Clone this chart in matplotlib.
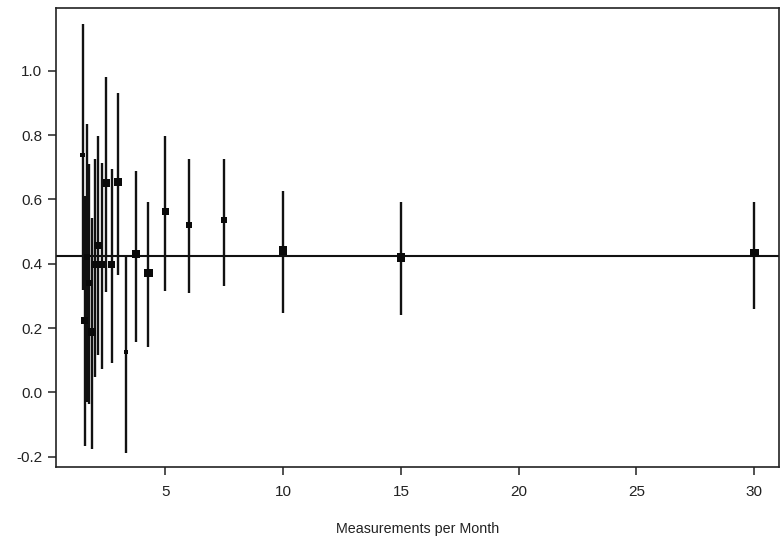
import numpy as np
import matplotlib.pyplot as plt

plt.rcParams['font.family'] = ['Liberation Sans', 'DejaVu Sans']
plt.rcParams['axes.unicode_minus'] = False

# One estimate per sampling interval; measurements per month = 30 / interval.
interval_days = [1, 2, 3, 4, 5, 6, 7, 8, 9, 10,
                 11, 12, 13, 14, 15, 16, 17, 18, 19, 20]
estimate = [0.434, 0.420, 0.441, 0.535, 0.522, 0.563, 0.371, 0.431, 0.126, 0.655,
            0.397, 0.652, 0.397, 0.457, 0.397, 0.187, 0.340, 0.420, 0.225, 0.738]
ci_lower = [0.260, 0.240, 0.246, 0.330, 0.310, 0.316, 0.140, 0.157, -0.187, 0.366,
            0.093, 0.313, 0.072, 0.115, 0.048, -0.176, -0.035, -0.030, -0.166, 0.320]
ci_upper = [0.592, 0.592, 0.626, 0.727, 0.727, 0.796, 0.592, 0.688, 0.425, 0.930,
            0.694, 0.980, 0.712, 0.798, 0.725, 0.543, 0.709, 0.834, 0.610, 1.147]
# relative precision weight of each estimate (drives square size)
weight = [4.0, 4.0, 4.0, 2.0, 2.0, 2.5, 4.0, 4.0, 1.2, 3.2,
          2.8, 3.2, 2.8, 3.2, 2.8, 3.4, 2.0, 2.0, 2.8, 1.2]
pooled = 0.425

x = 30 / np.array(interval_days, dtype=float)
est = np.array(estimate)
lo = np.array(ci_lower)
hi = np.array(ci_upper)
side = 2.2 + 1.0 * np.array(weight)  # marker side in points

fig = plt.figure(figsize=(7.81, 5.36), dpi=100)
ax = fig.add_axes([0.0717, 0.128, 0.926, 0.858])

ax.vlines(x, lo, hi, color="#111111", linewidth=1.7, zorder=2)
ax.axhline(pooled, color="#111111", linewidth=1.5, zorder=1)
ax.scatter(x, est, s=side**2, marker="s", color="#0a0a0a", linewidths=0, zorder=3)

ax.set_xlim(0.36, 31.06)
ax.set_ylim(-0.233, 1.197)
ax.set_xticks([5, 10, 15, 20, 25, 30])
ax.set_yticks([-0.2, 0.0, 0.2, 0.4, 0.6, 0.8, 1.0])
ax.yaxis.set_major_formatter(plt.FormatStrFormatter("%.1f"))
ax.tick_params(axis="both", direction="out", length=6, width=1.1,
               labelsize=11, color="#222222", labelcolor="#222222")
ax.tick_params(axis="x", pad=7)
ax.tick_params(axis="y", pad=4)
for sp in ax.spines.values():
    sp.set_linewidth(1.2)
    sp.set_color("#222222")

ax.set_xlabel("Measurements per Month", fontsize=10.3, labelpad=16, color="#222222")

plt.savefig("out.png", dpi=100)
plt.close()
